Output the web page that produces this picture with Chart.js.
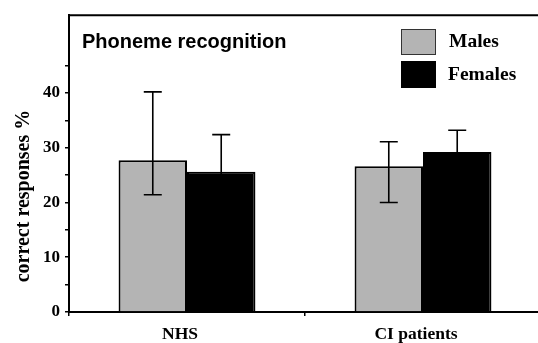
<!DOCTYPE html>
<html lang="en">
<head>
    <meta charset="UTF-8">
    <title>Phoneme recognition</title>
    <script src="https://cdn.jsdelivr.net/npm/chart.js"></script>
    <style>
        body { margin: 0; overflow: hidden; background: #fff; }
        #wrap { width: 542px; height: 343px; }
    </style>
</head>
<body>
    <div id="wrap"><canvas id="chartPhoneme"></canvas></div>

    <script>
        // data
        let categories = ["NHS", "CI patients"];
        let males = [27.7, 26.6];
        let females = [25.6, 29.2];
        let malesErrHigh = [40.2, 31.1];
        let malesErrLow = [21.4, 20.0];
        let femalesErrHigh = [32.4, 33.2];
        let femalesErrLow = [18.8, 25.2];
        let yTickValues = [0, 5, 10, 15, 20, 25, 30, 35, 40, 45];
        let yLabelValues = [0, 10, 20, 30, 40];

        let serif = "'Liberation Serif', 'Times New Roman', serif";
        let sans = "'Liberation Sans', Arial, sans-serif";

        // error bars + box top line + title + legend + y title
        let extras = {
            id: "extras",
            afterDatasetsDraw(chart) {
                let ctx = chart.ctx;
                let y = chart.scales.y;
                let errs = [[malesErrHigh, malesErrLow], [femalesErrHigh, femalesErrLow]];
                ctx.save();
                ctx.strokeStyle = "#000";
                ctx.lineWidth = 1.6;
                errs.forEach((e, di) => {
                    chart.getDatasetMeta(di).data.forEach((bar, i) => {
                        let hi = y.getPixelForValue(e[0][i]);
                        let lo = y.getPixelForValue(e[1][i]);
                        ctx.beginPath();
                        ctx.moveTo(bar.x, hi); ctx.lineTo(bar.x, lo);
                        ctx.moveTo(bar.x - 9, hi); ctx.lineTo(bar.x + 9, hi);
                        ctx.moveTo(bar.x - 9, lo); ctx.lineTo(bar.x + 9, lo);
                        ctx.stroke();
                    });
                });
                ctx.restore();
            },
            afterDraw(chart) {
                let ctx = chart.ctx;
                let a = chart.chartArea;
                ctx.save();
                // top line of the box
                ctx.strokeStyle = "#000";
                ctx.lineWidth = 2;
                ctx.beginPath();
                ctx.moveTo(a.left - 1, a.top);
                ctx.lineTo(chart.width, a.top);
                ctx.stroke();

                // panel title
                ctx.fillStyle = "#000";
                ctx.font = "bold 20px " + sans;
                ctx.textBaseline = "middle";
                ctx.fillText("Phoneme recognition", 82, 42);

                // legend
                ctx.fillStyle = "#b4b4b4";
                ctx.fillRect(401, 29, 35, 26);
                ctx.lineWidth = 1;
                ctx.strokeStyle = "#333";
                ctx.strokeRect(401.5, 29.5, 34, 25);
                ctx.fillStyle = "#000";
                ctx.fillRect(401, 61, 35, 27);
                ctx.font = "bold 19.5px " + serif;
                ctx.fillText("Males", 449, 42);
                ctx.fillText("Females", 448, 75);

                // y axis title
                ctx.translate(24, 196);
                ctx.rotate(-Math.PI / 2);
                ctx.textAlign = "center";
                ctx.font = "bold 20px " + serif;
                ctx.fillText("correct responses %", 0, 0);
                ctx.restore();
            }
        };

        let ctx = document.getElementById("chartPhoneme").getContext("2d");
        let chart = new Chart(ctx, {
            type: "bar",
            data: {
                labels: categories,
                datasets: [
                    { label: "Males", data: males, backgroundColor: "#b4b4b4", borderColor: "#000", borderWidth: 2 },
                    { label: "Females", data: females, backgroundColor: "#000", borderColor: "#000", borderWidth: 2 }
                ]
            },
            options: {
                responsive: true,
                maintainAspectRatio: false,
                animation: false,
                layout: { padding: { top: 11, right: 1, left: 0, bottom: 0 } },
                plugins: { legend: { display: false }, tooltip: { enabled: false } },
                datasets: { bar: { categoryPercentage: 0.58, barPercentage: 1 } },
                scales: {
                    x: {
                        grid: { offset: true, drawOnChartArea: false, tickLength: 4, color: "#000", lineWidth: 1.5 },
                        border: { color: "#000", width: 2 },
                        ticks: { color: "#000", font: { family: serif, size: 17.5, weight: "bold" }, padding: 8, labelOffset: -7 },
                        afterFit: s => { s.height = 31; }
                    },
                    y: {
                        min: 0,
                        max: 54.2,
                        afterBuildTicks: s => { s.ticks = yTickValues.map(v => ({ value: v })); },
                        grid: { drawOnChartArea: false, tickLength: 4, color: "#000", lineWidth: 1.5 },
                        border: { color: "#000", width: 2 },
                        ticks: {
                            color: "#000",
                            padding: 5,
                            font: { family: serif, size: 17, weight: "bold" },
                            callback: v => yLabelValues.includes(v) ? String(v) : ""
                        },
                        afterFit: s => { s.width = 69; }
                    }
                }
            },
            plugins: [extras]
        });
    </script>
</body>
</html>
